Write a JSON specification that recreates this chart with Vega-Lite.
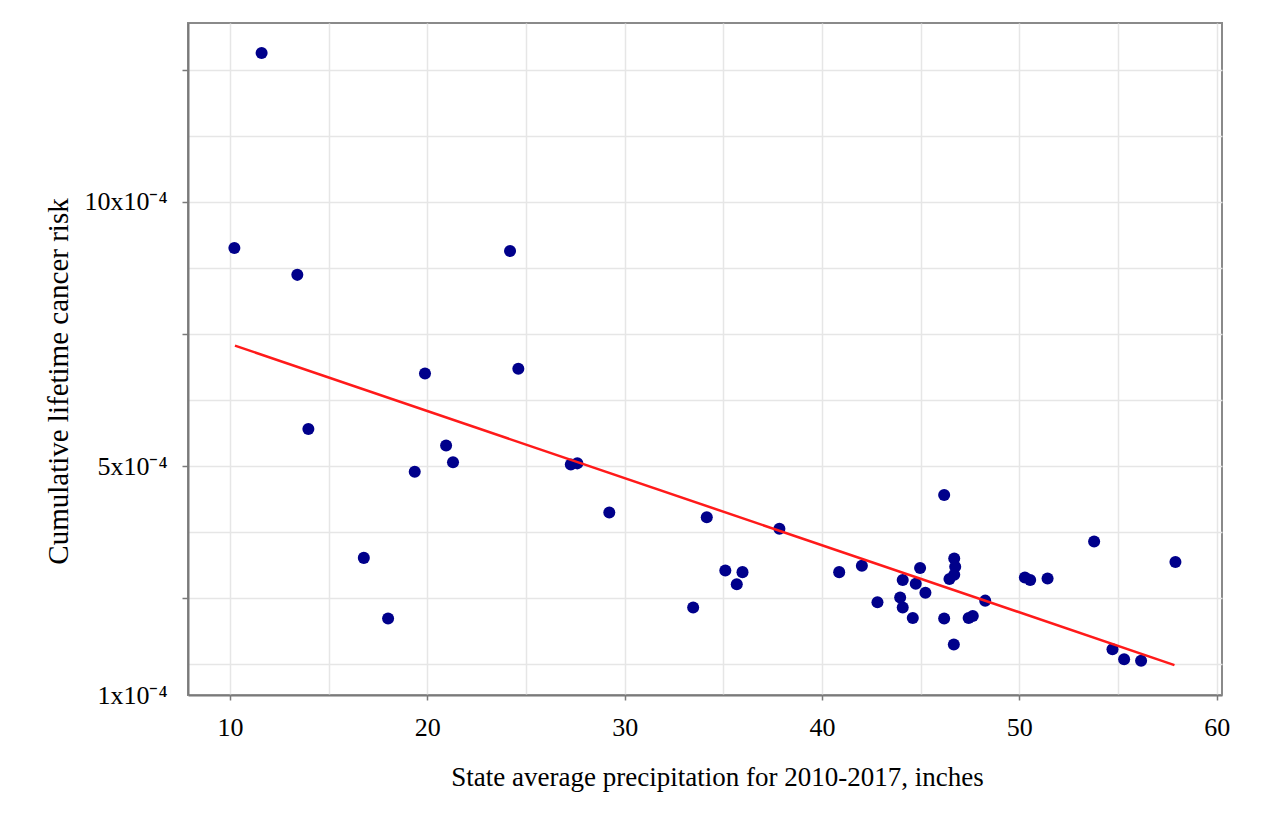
{
  "$schema": "https://vega.github.io/schema/vega-lite/v6.json",
  "autosize": {"type": "none"},
  "width": 1034,
  "height": 672,
  "padding": {"left": 188, "top": 23, "right": 47, "bottom": 132},
  "background": "white",
  "config": {
    "font": "Liberation Serif",
    "view": {"stroke": "#8a8a8a", "strokeWidth": 2},
    "axis": {
      "labelFont": "Liberation Serif",
      "titleFont": "Liberation Serif",
      "labelColor": "black",
      "titleColor": "black",
      "titleFontWeight": "normal",
      "labelFontSize": 26,
      "titleFontSize": 27,
      "gridColor": "#e6e6e6",
      "gridWidth": 1.5,
      "domainColor": "#7a7a7a",
      "domainWidth": 2,
      "tickColor": "#7a7a7a",
      "tickWidth": 1.5
    }
  },
  "datasets": {
    "states": [
      {"precip": 11.6, "risk": 12.82},
      {"precip": 10.22, "risk": 9.13},
      {"precip": 13.41, "risk": 8.62},
      {"precip": 24.19, "risk": 9.07},
      {"precip": 13.97, "risk": 5.7},
      {"precip": 19.88, "risk": 6.75},
      {"precip": 24.61, "risk": 6.84},
      {"precip": 20.95, "risk": 5.39},
      {"precip": 21.3, "risk": 5.07},
      {"precip": 19.36, "risk": 4.89},
      {"precip": 27.27, "risk": 5.03},
      {"precip": 27.6, "risk": 5.05},
      {"precip": 16.78, "risk": 3.26},
      {"precip": 18.01, "risk": 2.11},
      {"precip": 29.22, "risk": 4.12},
      {"precip": 34.16, "risk": 4.03},
      {"precip": 37.84, "risk": 3.81},
      {"precip": 33.47, "risk": 2.32},
      {"precip": 35.1, "risk": 3.02},
      {"precip": 35.97, "risk": 2.99},
      {"precip": 35.68, "risk": 2.76},
      {"precip": 40.87, "risk": 2.99},
      {"precip": 42.02, "risk": 3.11},
      {"precip": 42.81, "risk": 2.42},
      {"precip": 43.96, "risk": 2.51},
      {"precip": 44.09, "risk": 2.32},
      {"precip": 44.6, "risk": 2.12},
      {"precip": 44.09, "risk": 2.84},
      {"precip": 44.75, "risk": 2.77},
      {"precip": 44.97, "risk": 3.07},
      {"precip": 45.24, "risk": 2.6},
      {"precip": 46.19, "risk": 4.45},
      {"precip": 46.19, "risk": 2.11},
      {"precip": 46.68, "risk": 1.62},
      {"precip": 46.7, "risk": 3.25},
      {"precip": 46.75, "risk": 3.09},
      {"precip": 46.7, "risk": 2.94},
      {"precip": 46.46, "risk": 2.86},
      {"precip": 47.43, "risk": 2.12},
      {"precip": 47.64, "risk": 2.16},
      {"precip": 48.27, "risk": 2.45},
      {"precip": 50.28, "risk": 2.89},
      {"precip": 50.55, "risk": 2.84},
      {"precip": 51.43, "risk": 2.87},
      {"precip": 53.79, "risk": 3.57},
      {"precip": 57.91, "risk": 3.18},
      {"precip": 54.72, "risk": 1.53},
      {"precip": 55.31, "risk": 1.34},
      {"precip": 56.17, "risk": 1.31}
    ],
    "trend": [
      {"precip": 10.25, "risk": 7.28},
      {"precip": 57.86, "risk": 1.23}
    ]
  },
  "encoding": {
    "x": {
      "field": "precip",
      "type": "quantitative",
      "scale": {"domain": [7.87, 60.27], "nice": false, "zero": false},
      "axis": {
        "title": "State average precipitation for 2010-2017, inches",
        "values": [10, 15, 20, 25, 30, 35, 40, 45, 50, 55, 60],
        "labelExpr": "datum.value % 10 == 0 ? datum.label : ''",
        "tickSize": 5,
        "tickOpacity": {"condition": {"test": "datum.value % 10 == 0", "value": 1}, "value": 0},
        "labelPadding": 14,
        "titlePadding": 24,
        "titleX": 529
      }
    },
    "y": {
      "field": "risk",
      "type": "quantitative",
      "scale": {"domain": [0.663, 13.39], "nice": false, "zero": false},
      "axis": {
        "title": "Cumulative lifetime cancer risk",
        "values": [0.663, 1.25, 2.5, 3.75, 5, 6.25, 7.5, 8.75, 10, 11.25, 12.5],
        "labelExpr": "datum.value == 10 ? '10x10⁻⁴' : datum.value == 5 ? '5x10⁻⁴' : datum.value < 1 ? '1x10⁻⁴' : ''",
        "tickSize": 6,
        "tickOpacity": {"condition": {"test": "datum.value % 2.5 == 0", "value": 1}, "value": 0},
        "labelPadding": 15,
        "titleFontSize": 29,
        "titlePadding": 10,
        "titleY": 358
      }
    }
  },
  "layer": [
    {
      "data": {"name": "states"},
      "mark": {"type": "point", "filled": true, "shape": "circle", "size": 145, "color": "#00008b", "opacity": 1}
    },
    {
      "data": {"name": "trend"},
      "mark": {"type": "line", "color": "#ff1a1a", "strokeWidth": 2.5}
    }
  ]
}
